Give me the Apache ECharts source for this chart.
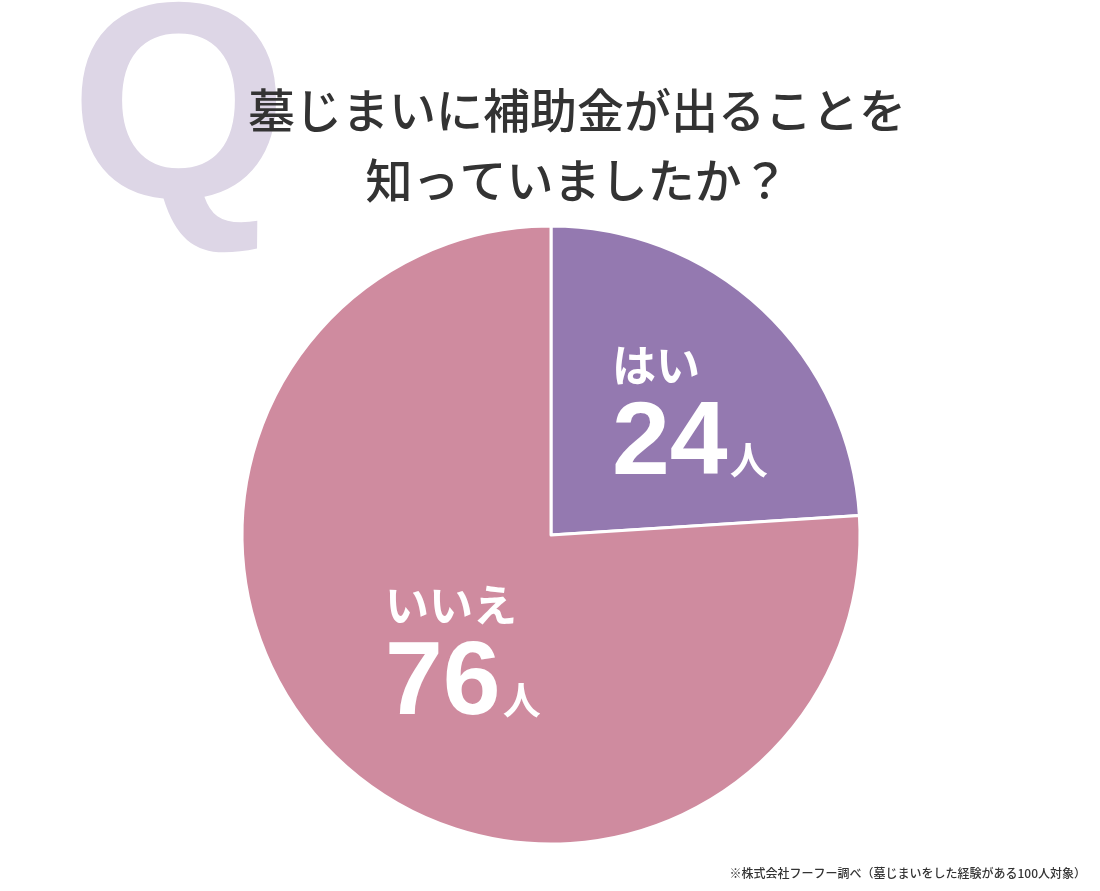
<!DOCTYPE html>
<html><head><meta charset="utf-8">
<script src="https://cdn.jsdelivr.net/npm/echarts@6/dist/echarts.min.js"></script>
<style>html,body{margin:0;padding:0;background:#fff}#c{width:1100px;height:891px}</style>
</head><body><div id="c"></div>
<script>
const categories = ['はい', 'いいえ'];
const values = [24, 76];
const unit = '人';
const titleLines = ['墓じまいに補助金が出ることを', '知っていましたか？'];
const note = '※株式会社フーフー調べ（墓じまいをした経験がある100人対象）';
const colors = ['#9479b0', '#cf8b9f'];
const labelPos = [[612, 335], [385, 575]];
const jp = '"Noto Sans CJK JP", sans-serif';
const lat = '"Liberation Sans", Arial, sans-serif';
const chart = echarts.init(document.getElementById('c'));
chart.setOption({
  animation: false,
  graphic: [
    {type:'text', left:70, top:-20, z:0, style:{text:'Q', fontSize:280, fontWeight:900, fontFamily:lat, fill:'#ddd6e6'}},
    {type:'text', x:577, y:110, z:5, style:{text:titleLines[0], fontSize:47, fontWeight:500, fontFamily:jp, fill:'#333', align:'center', verticalAlign:'middle'}},
    {type:'text', x:577, y:180, z:5, style:{text:titleLines[1], fontSize:47, fontWeight:500, fontFamily:jp, fill:'#333', align:'center', verticalAlign:'middle'}},
    {type:'text', right:14, bottom:12, style:{text:note, fontSize:12, fontWeight:500, fontFamily:jp, fill:'#333'}}
  ],
  series: [{
    type:'pie', center:[551,535], radius:309, startAngle:90, clockwise:true,
    itemStyle:{borderColor:'#fff', borderWidth:3},
    data: categories.map((n,i)=>({name:n, value:values[i], itemStyle:{color:colors[i]}})),
    label:{show:true, position:'inside', align:'left',
      formatter: p => '{a|'+p.name+'}\n{b|'+p.value+'}{c|'+unit+'}',
      rich:{
        a:{fontSize:44, fontWeight:'bold', fontFamily:jp, color:'#fff', lineHeight:60},
        b:{fontSize:104, fontWeight:'bold', fontFamily:lat, color:'#fff', lineHeight:100},
        c:{fontSize:38, fontWeight:'bold', fontFamily:jp, color:'#fff', lineHeight:100, padding:[30,0,0,2]}
      }},
    labelLine:{show:false},
    labelLayout: p => ({x:labelPos[p.dataIndex][0], y:labelPos[p.dataIndex][1], align:'left', verticalAlign:'top'})
  }]
});
</script></body></html>
